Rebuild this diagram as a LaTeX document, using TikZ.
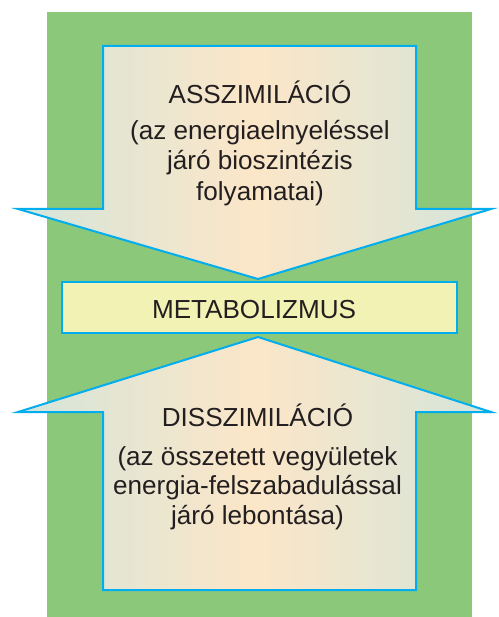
\documentclass[tikz,border=0pt]{standalone}
\usepackage{fontspec}
\setmainfont{Liberation Sans}
\definecolor{bggreen}{RGB}{140,200,122}
\definecolor{linecyan}{RGB}{0,174,239}
\definecolor{boxfill}{RGB}{243,242,181}
\definecolor{edgecol}{RGB}{212,229,218}
\definecolor{midcol}{RGB}{252,230,200}
\definecolor{txt}{RGB}{35,31,32}
\tikzset{
  arrowshape/.style={draw=linecyan, line width=2pt, line join=miter,
    left color=edgecol, right color=edgecol, middle color=midcol},
  metbox/.style={draw=linecyan, line width=2pt, fill=boxfill, inner sep=0pt,
    minimum width=395pt, minimum height=51pt},
  lbl/.style={text=txt, inner sep=0pt, anchor=base,
    font=\fontsize{26.1pt}{30.5pt}\selectfont}
}
\begin{document}
\begin{tikzpicture}[x=1pt,y=-1pt]
\useasboundingbox (0,0) rectangle (498,617);
\fill[bggreen] (47,12) rectangle (472,617);
% down arrow (assimilation)
\draw[arrowshape] (103,46) -- (416,46) -- (416,209) -- (491,209) -- (258,279)
  -- (18,209) -- (103,209) -- cycle;
% up arrow (dissimilation)
\draw[arrowshape] (258,337) -- (491,412) -- (416,412) -- (416,590)
  -- (103,590) -- (103,412) -- (18,412) -- cycle;
% central box
\node[metbox] (met) at (259.5,307.5) {};
\node[lbl] (mettext) at (254,318.3) {METABOLIZMUS};
% upper texts
\node[lbl] (a1) at (260,103.3) {ASSZIMILÁCIÓ};
\node[lbl] (a2) at (260,139.5) {(az energiaelnyeléssel};
\node[lbl] (a3) at (260,170) {járó bioszintézis};
\node[lbl] (a4) at (260,200.5) {folyamatai)};
% lower texts
\node[lbl] (d1) at (257.5,426.7) {DISSZIMILÁCIÓ};
\node[lbl] (d2) at (257.5,465) {(az összetett vegyületek};
\node[lbl] (d3) at (257.5,494.5) {energia-felszabadulással};
\node[lbl] (d4) at (257.5,524) {járó lebontása)};
\end{tikzpicture}
\end{document}
